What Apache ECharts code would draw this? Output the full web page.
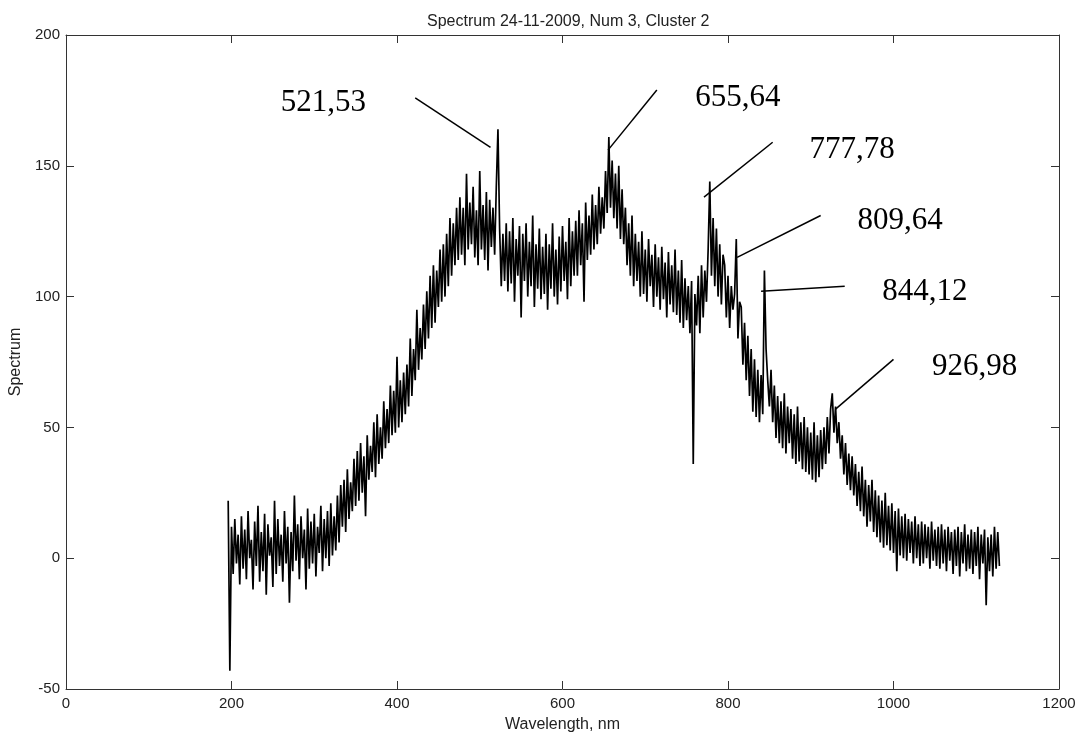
<!DOCTYPE html>
<html>
<head>
<meta charset="utf-8">
<title>Spectrum 24-11-2009</title>
<script src="https://cdn.jsdelivr.net/npm/echarts@6/dist/echarts.min.js"></script>
<style>
  html, body { margin: 0; padding: 0; background: #fff; }
  #main { width: 1080px; height: 738px; }
</style>
</head>
<body>
<div id="main"></div>
<script>
var wlStart = 196;
var wlStep = 2;
var spectrum = [
  22, -43, 12, -6, 15, -2, 9, -10, 16, -4,
  11, -8, 18, 0, 7, -12, 14, -3, 20, -9,
  10, -5, 17, -14, 13, 1, 8, -11, 22, -6,
  15, -3, 9, -9, 18, -2, 12, -17, 10, -5,
  24, -1, 13, -8, 16, 0, 11, -12, 19, -4,
  14, -2, 17, -7, 12, 2, 20, -5, 15, 0,
  18, -3, 21, 1, 16, 3, 24, 6, 28, 12,
  30, 10, 34, 15, 29, 18, 38, 20, 41, 22,
  44, 25, 39, 16, 47, 30, 43, 33, 52, 31,
  55, 36, 50, 38, 60, 42, 57, 44, 66, 47,
  64, 48, 77, 50, 68, 52, 71, 55, 74, 58,
  84, 62, 80, 68, 95, 72, 88, 76, 97, 80,
  102, 84, 108, 88, 112, 90, 110, 96, 118, 98,
  120, 100, 124, 104, 130, 108, 128, 112, 134, 114,
  138, 116, 134, 112, 147, 118, 136, 120, 142, 115,
  133, 112, 148, 118, 135, 114, 140, 110, 137, 119,
  134, 116, 142, 164, 126, 104, 124, 106, 128, 102,
  125, 105, 130, 98, 122, 108, 127, 92, 124, 106,
  128, 100, 121, 104, 131, 96, 120, 103, 126, 99,
  119, 101, 124, 95, 120, 103, 128, 100, 118, 97,
  123, 102, 127, 106, 121, 99, 130, 104, 125, 108,
  129, 108, 133, 112, 128, 98, 136, 114, 131, 116,
  139, 118, 135, 120, 142, 124, 138, 126, 148, 132,
  161, 134, 152, 130, 147, 126, 150, 122, 141, 120,
  134, 112, 128, 108, 131, 104, 124, 106, 121, 100,
  125, 101, 118, 98, 122, 104, 116, 96, 120, 100,
  115, 95, 119, 99, 113, 92, 117, 97, 112, 94,
  118, 93, 110, 90, 114, 88, 107, 91, 104, 86,
  106, 36, 101, 89, 108, 86, 112, 92, 110, 98,
  118, 144, 108, 130, 104, 126, 100, 120, 97, 116,
  112, 92, 108, 88, 104, 95, 101, 122, 84, 98,
  96, 74, 90, 68, 85, 62, 80, 56, 76, 54,
  72, 52, 70, 55, 110, 80, 68, 58, 72, 52,
  66, 46, 62, 44, 60, 42, 63, 40, 58, 44,
  57, 38, 55, 36, 58, 37, 52, 34, 54, 33,
  50, 32, 48, 30, 52, 29, 47, 31, 49, 34,
  50, 36, 54, 40, 57, 63, 48, 58, 44, 52,
  38, 47, 32, 44, 28, 40, 26, 39, 24, 36,
  20, 33, 18, 35, 16, 30, 12, 28, 14, 30,
  10, 26, 8, 24, 6, 22, 4, 25, 5, 20,
  3, 21, 2, 18, -5, 19, 1, 16, 0, 17,
  -1, 15, 2, 14, -2, 16, 0, 13, -3, 14,
  -2, 13, 0, 12, -4, 14, -1, 11, -3, 12,
  -4, 13, -2, 11, -5, 12, -1, 10, -6, 11,
  -3, 12, -7, 10, -2, 13, -5, 9, -4, 11,
  -6, 10, -3, 12, -8, 9, -2, 11, -18, 8,
  -5, 9, -7, 12, -4, 10, -3
];

// labelled emission lines
var peakLabels = ['521,53', '655,64', '777,78', '809,64', '844,12', '926,98'];

var xMin = 0, xMax = 1200, xStep = 200;
var yMin = -50, yMax = 200, yStep = 50;

var points = spectrum.map(function (v, i) {
  return [wlStart + i * wlStep, v];
});

// leader lines and label anchors, in data units
var leaderFrom = [[422, 176], [714, 179], [854, 159], [912, 131], [941, 104], [1000, 76]];
var leaderTo = [[513, 157], [655, 156], [771, 138], [811, 115], [840, 102], [930, 57]];
var labelAt = [[311, 174], [812, 176], [950, 156], [1008, 129], [1038, 102], [1098, 73]];

var axisColor = '#333';
var textColor = '#222';

var chartDom = document.getElementById('main');
var myChart = echarts.init(chartDom);
var option;

function boxAxis(pos, min, max, step) {
  return {
    type: 'value',
    position: pos,
    min: min, max: max, interval: step,
    axisLine: { show: true, onZero: false, lineStyle: { color: axisColor, width: 1 } },
    axisTick: { show: true, inside: true, length: 8, lineStyle: { color: axisColor } },
    axisLabel: { show: false },
    splitLine: { show: false }
  };
}

function plain(v) {
  return String(v);
}

option = {
  animation: false,
  backgroundColor: '#fff',
  title: {
    text: 'Spectrum 24-11-2009, Num 3, Cluster 2',
    left: 422,
    top: 9,
    textStyle: { fontFamily: 'Liberation Sans', fontSize: 16, fontWeight: 'normal', color: textColor }
  },
  grid: { left: 66, right: 21, top: 35, bottom: 47 },
  xAxis: [
    {
      type: 'value',
      min: xMin, max: xMax, interval: xStep,
      name: 'Wavelength, nm',
      nameLocation: 'middle',
      nameGap: 28,
      nameTextStyle: { fontFamily: 'Liberation Sans', fontSize: 16, color: textColor },
      axisLine: { show: true, onZero: false, lineStyle: { color: axisColor, width: 1 } },
      axisTick: { show: true, inside: true, length: 8, lineStyle: { color: axisColor } },
      axisLabel: { margin: 7, fontFamily: 'Liberation Sans', fontSize: 15, color: textColor, formatter: plain },
      splitLine: { show: false }
    },
    boxAxis('top', xMin, xMax, xStep)
  ],
  yAxis: [
    {
      type: 'value',
      min: yMin, max: yMax, interval: yStep,
      name: 'Spectrum',
      nameLocation: 'middle',
      nameGap: 40,
      nameTextStyle: { fontFamily: 'Liberation Sans', fontSize: 16, color: textColor },
      axisLine: { show: true, onZero: false, lineStyle: { color: axisColor, width: 1 } },
      axisTick: { show: true, inside: true, length: 8, lineStyle: { color: axisColor } },
      axisLabel: { margin: 6, fontFamily: 'Liberation Sans', fontSize: 15, color: textColor, formatter: plain },
      splitLine: { show: false }
    },
    boxAxis('right', yMin, yMax, yStep)
  ],
  series: [
    {
      name: 'Spectrum',
      type: 'line',
      data: points,
      symbol: 'none',
      sampling: null,
      lineStyle: { color: '#000', width: 1.7 },
      markLine: {
        silent: true,
        symbol: ['none', 'none'],
        label: { show: false },
        lineStyle: { color: '#000', width: 1.5, type: 'solid' },
        data: leaderFrom.map(function (p, i) {
          return [{ coord: p }, { coord: leaderTo[i] }];
        })
      },
      markPoint: {
        silent: true,
        symbol: 'rect',
        symbolSize: 1,
        itemStyle: { color: 'rgba(0,0,0,0)' },
        label: {
          show: true,
          position: 'inside',
          formatter: '{b}',
          fontFamily: 'Liberation Serif',
          fontSize: 31,
          color: '#000'
        },
        data: labelAt.map(function (p, i) {
          return { name: peakLabels[i], coord: p };
        })
      }
    }
  ]
};

option && myChart.setOption(option);
</script>
</body>
</html>
